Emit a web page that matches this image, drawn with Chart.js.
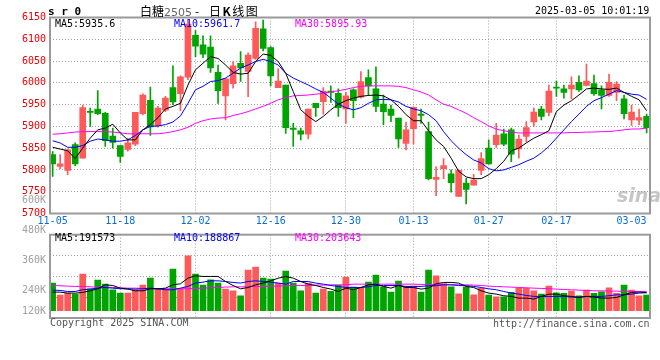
<!DOCTYPE html>
<html>
<head>
<meta charset="utf-8">
<script src="https://cdn.jsdelivr.net/npm/chart.js@4.4.1/dist/chart.umd.min.js"></script>
<style>
  body { margin: 0; background: #fff; }
  #wrap { position: relative; width: 660px; height: 360px; overflow: hidden; }
  canvas { position: absolute; left: 0; }
  .t { position: absolute; white-space: pre; font: 10px/12px "DejaVu Sans Mono", monospace; }
</style>
</head>
<body>
<div id="wrap">
  <canvas id="cPrice" width="660" height="232" style="top:0"></canvas>
  <canvas id="cVol" width="660" height="140" style="top:190px"></canvas>

  <div class="t" style="left:48px;top:5px;font:bold 11px/13px 'DejaVu Sans Mono'">s r 0</div>
  <div class="t" style="left:140px;top:3px;font:12px/16px 'Noto Sans CJK SC'">白糖<span style="color:#666;font:11px 'DejaVu Sans'">2505</span></div>
  <div class="t" style="left:195px;top:3px;font:12px/16px 'Noto Sans CJK SC'">-</div>
  <div class="t" style="left:209px;top:3px;font:12px/16px 'Noto Sans CJK SC';letter-spacing:1.5px">日<b>K</b>线图</div>
  <div class="t" style="left:535px;top:5px">2025-03-05 10:01:19</div>

  <div class="t" style="left:55px;top:18px;color:#000">MA5:5935.6</div>
  <div class="t" style="left:174px;top:18px;color:#0000ff">MA10:5961.7</div>
  <div class="t" style="left:295px;top:18px;color:#ff00ff">MA30:5895.93</div>

  <div class="t" style="left:55px;top:232px;color:#000">MA5:191573</div>
  <div class="t" style="left:174px;top:232px;color:#0000ff">MA10:188867</div>
  <div class="t" style="left:295px;top:232px;color:#ff00ff">MA30:203643</div>

  <div class="t" style="left:50px;top:317px;color:#555">Copyright 2025 SINA.COM</div>
  <div class="t" style="left:493px;top:318px;color:#555">http://finance.sina.com.cn</div>
  <div class="t" style="left:617px;top:184px;font:italic bold 19px/22px 'DejaVu Sans';color:rgba(160,160,160,.6)">sina</div>
</div>

<script>
// ═══════════════════════════════════════════════
//  DATOS — SR505, 80 sesiones (11-05 … 03-05)
// ═══════════════════════════════════════════════

const X_TICK_IDX    = [0, 9, 19, 29, 39, 48, 58, 67, 77];
const X_TICK_LABELS = ['11-05','11-18','12-02','12-16','12-30','01-13','01-27','02-17','03-03'];

const OPEN  = [5835,5808,5799,5858,5827,5934,5940,5930,5878,5856, 5847,5859,5929,5960,5901,5937,5989,5975,6013,6109,
               6087,6082,6024,5970,5998,6045,6026,6056,6124,6081, 5989,5995,5896,5890,5882,5953,5957,5981,5976,5940,
               5984,5967,6012,5986,5951,5940,5919,5861,5895,5928, 5888,5778,5803,5791,5739,5770,5765,5799,5850,5858,
               5883,5892,5848,5877,5910,5940,5932,5989,5986,5986, 6001,5994,5998,5984,5971,5978,5963,5915,5914,5923];
const HIGH  = [5842,5835,5848,5862,5949,5942,5982,5932,5896,5856, 5873,5932,5975,5990,5946,5969,6039,6016,6143,6120,
               6108,6108,6041,6009,6049,6072,6069,6140,6144,6083, 6033,5995,5907,5896,5940,5953,5989,5993,5986,5978,
               5986,6026,6030,6037,5972,5949,5919,5910,5945,5940, 5910,5808,5826,5800,5800,5781,5790,5840,5869,5907,
               5894,5896,5880,5911,5942,5946,5995,6004,5995,6014, 6016,6043,6018,5993,6020,6003,5972,5949,5940,5928];
const LOW   = [5785,5803,5789,5810,5827,5900,5927,5854,5850,5817, 5843,5856,5927,5879,5898,5934,5950,5936,6007,6060,
               6058,6024,5953,5915,5988,6003,5968,6054,6073,5993, 5989,5884,5854,5869,5871,5923,5928,5955,5923,5907,
               5920,5965,5971,5934,5904,5911,5852,5846,5859,5907, 5777,5741,5780,5749,5739,5722,5765,5789,5813,5852,
               5856,5819,5827,5864,5900,5915,5924,5969,5965,5963, 5980,5993,5971,5940,5969,5959,5917,5902,5904,5885];
const CLOSE = [5814,5814,5846,5814,5943,5932,5929,5867,5863,5831, 5862,5932,5972,5899,5942,5965,5956,6014,6135,6084,
               6066,6034,5982,6009,6039,6034,6064,6125,6079,6016, 6004,5897,5893,5882,5940,5943,5981,5978,5943,5970,
               5959,6003,5993,5946,5934,5925,5871,5892,5944,5925, 5780,5783,5810,5771,5799,5755,5777,5826,5814,5880,
               5859,5836,5871,5897,5933,5923,5981,5988,5978,5995, 5984,6004,5975,5971,6001,5997,5929,5933,5920,5897];

const MA5   = [5852,5848,5844,5826,5850,5873,5892,5896,5905,5885, 5869,5869,5892,5904,5920,5940,5946,5953,5995,6030,
               6045,6060,6056,6041,6024,6020,6022,6049,6066,6063, 6049,6022,5980,5938,5923,5911,5923,5938,5951,5959,
               5965,5969,5971,5972,5970,5961,5946,5927,5913,5913, 5890,5869,5854,5827,5797,5784,5780,5780,5789,5803,
               5820,5844,5850,5862,5873,5881,5890,5934,5949,5959, 5972,5986,5988,5986,5985,5988,5978,5969,5961,5936];
const MA10  = [5867,5862,5852,5852,5856,5866,5871,5869,5866,5866, 5869,5879,5892,5900,5901,5904,5910,5924,5953,5984,
               5992,6003,6005,6011,6022,6034,6041,6049,6054,6049, 6041,6022,6011,6003,5995,5986,5978,5965,5951,5943,
               5938,5943,5953,5961,5962,5961,5956,5946,5940,5936, 5927,5913,5888,5867,5850,5835,5823,5816,5803,5798,
               5800,5806,5812,5820,5827,5839,5854,5873,5892,5911, 5928,5946,5959,5966,5974,5982,5978,5974,5972,5962];
const MA30  = [5882,5883,5885,5887,5888,5888,5888,5888,5887,5885, 5883,5883,5883,5883,5883,5885,5888,5892,5898,5907,
               5913,5917,5919,5920,5925,5929,5934,5940,5946,5953, 5961,5966,5970,5971,5972,5974,5976,5979,5982,5985,
               5989,5992,5993,5993,5993,5993,5992,5989,5984,5979, 5972,5961,5951,5946,5938,5930,5920,5911,5901,5894,
               5890,5887,5885,5885,5885,5885,5885,5885,5885,5886, 5886,5887,5887,5888,5888,5890,5892,5894,5894,5896];

const VOL      = [291000,165000,186000,175000,385000,231000,322000,280000,221000,186000,
                  186000,221000,270000,343000,228000,228000,438000,231000,578000,385000,
                  270000,326000,291000,228000,210000,158000,427000,459000,343000,333000,
                  291000,417000,291000,210000,291000,186000,228000,204000,267000,354000,
                  249000,244000,301000,375000,252000,196000,312000,249000,259000,196000,
                  427000,368000,286000,252000,179000,249000,168000,235000,165000,147000,
                  147000,193000,235000,235000,210000,175000,259000,189000,183000,207000,
                  158000,217000,183000,200000,242000,183000,270000,217000,158000,165000];
const VOL_MA5  = [196000,196000,186000,186000,193000,210000,231000,273000,266000,238000,
                  228000,210000,210000,231000,231000,238000,273000,284000,343000,368000,
                  361000,361000,361000,308000,266000,231000,245000,273000,291000,315000,
                  343000,361000,343000,308000,280000,266000,245000,228000,203000,238000,
                  221000,245000,273000,280000,256000,238000,266000,245000,245000,228000,
                  238000,284000,298000,298000,291000,256000,245000,210000,186000,175000,
                  158000,151000,133000,133000,123000,151000,175000,175000,158000,151000,
                  140000,151000,144000,133000,133000,140000,168000,193000,196000,192000];
const VOL_MA10 = [217000,214000,203000,203000,221000,228000,238000,245000,238000,231000,
                  231000,228000,231000,238000,231000,221000,221000,238000,256000,291000,
                  301000,315000,315000,308000,298000,291000,308000,315000,308000,301000,
                  291000,280000,308000,308000,308000,291000,280000,266000,256000,245000,
                  245000,245000,252000,266000,266000,266000,266000,256000,256000,256000,
                  263000,263000,273000,273000,266000,263000,256000,245000,231000,221000,
                  203000,186000,175000,161000,151000,151000,151000,151000,151000,144000,
                  144000,151000,151000,151000,158000,168000,168000,175000,186000,189000];
const VOL_MA30 = [266000,263000,259000,256000,256000,252000,249000,249000,245000,242000,
                  238000,238000,235000,235000,231000,231000,231000,231000,231000,235000,
                  238000,242000,245000,249000,252000,252000,252000,256000,256000,259000,
                  259000,263000,266000,266000,266000,270000,270000,273000,273000,273000,
                  280000,280000,280000,280000,280000,280000,280000,280000,280000,277000,
                  277000,277000,277000,273000,273000,273000,270000,266000,259000,256000,
                  252000,249000,245000,242000,238000,235000,231000,228000,224000,221000,
                  217000,214000,210000,210000,207000,207000,203000,203000,203000,204000];

const VOL_TICKS       = [600000, 480000, 360000, 240000, 120000];
const VOL_TICK_LABELS = ['600K', '480K', '360K', '240K', '120K'];

// ═══════════════════════════════════════════════
//  ESTILO
// ═══════════════════════════════════════════════

const UP     = '#ff5a5a';
const DOWN   = '#00a400';
const GRID   = '#a0a0a0';
const FRAME  = '#9a9a9a';
const MONO   = { family: 'DejaVu Sans Mono', size: 10 };
const X_MIN  = -0.35;
const X_MAX  = 79.45;
const X_GRID_HIDE = [0, 77];

const colorOf = (i) => CLOSE[i] >= OPEN[i] ? UP : DOWN;
const colores = CLOSE.map((_, i) => colorOf(i));
const pts     = (arr) => arr.map((v, i) => ({ x: i, y: v }));

const framePlugin = {
  id: 'frame',
  afterDraw(chart) {
    const { ctx, chartArea: a } = chart;
    ctx.save();
    ctx.strokeStyle = FRAME;
    ctx.lineWidth = 2;
    ctx.strokeRect(a.left, a.top, a.right - a.left, a.bottom - a.top);
    ctx.restore();
  }
};

const xAxis = (showLabels) => ({
  type: 'linear',
  min: X_MIN,
  max: X_MAX,
  offset: false,
  afterBuildTicks: (s) => { s.ticks = X_TICK_IDX.map(v => ({ value: v })); },
  afterFit: (s) => { s.height = showLabels ? 18.5 : 12; },
  ticks: {
    display: showLabels,
    autoSkip: false,
    maxRotation: 0,
    padding: 2,
    color: '#0a6ed1',
    font: MONO,
    callback: (v) => X_TICK_LABELS[X_TICK_IDX.indexOf(v)]
  },
  grid: {
    offset: false,
    drawTicks: false,
    color: (c) => (c.tick && X_GRID_HIDE.includes(c.tick.value)) ? 'rgba(0,0,0,0)' : GRID
  },
  border: { display: false, dash: [1, 2] }
});

// ═══════════════════════════════════════════════
//  CHART: Velas + medias
// ═══════════════════════════════════════════════

const lineDs = (data, color) => ({
  type: 'line',
  data: pts(data),
  borderColor: color,
  borderWidth: 1,
  pointRadius: 0,
  tension: 0,
  order: 0
});

new Chart(document.getElementById('cPrice'), {
  type: 'bar',
  data: {
    datasets: [
      lineDs(MA5, '#000000'),
      lineDs(MA10, '#0000ff'),
      lineDs(MA30, '#ff00ff'),
      {
        data: OPEN.map((o, i) => ({ x: i, y: [o, CLOSE[i]] })),
        backgroundColor: colores,
        barThickness: 6,
        minBarLength: 1,
        grouped: false,
        order: 1
      },
      {
        data: LOW.map((l, i) => ({ x: i, y: [l, HIGH[i]] })),
        backgroundColor: colores,
        barThickness: 1,
        grouped: false,
        order: 2
      }
    ]
  },
  options: {
    responsive: false,
    animation: false,
    devicePixelRatio: 1,
    layout: { padding: { top: 17.5, right: 10, left: 0, bottom: 0 } },
    plugins: { legend: { display: false }, tooltip: { enabled: false } },
    scales: {
      x: xAxis(true),
      y: {
        min: 5700,
        max: 6150,
        afterFit: (s) => { s.width = 50; },
        ticks: { stepSize: 50, color: '#ee0000', font: MONO, padding: 4, callback: (v) => String(v) },
        grid: { drawTicks: false, color: GRID },
        border: { display: false, dash: [1, 2] }
      }
    }
  },
  plugins: [framePlugin]
});

// ═══════════════════════════════════════════════
//  CHART: Volumen
// ═══════════════════════════════════════════════

const volLabels = {
  id: 'volLabels',
  afterDraw(chart) {
    const s = chart.scales.yl, a = chart.chartArea, ctx = chart.ctx;
    ctx.save();
    ctx.font = '10px "DejaVu Sans Mono"';
    ctx.fillStyle = '#a0a0a0';
    ctx.textAlign = 'right';
    ctx.textBaseline = 'middle';
    VOL_TICKS.forEach((v, k) => {
      const y = Math.min(s.getPixelForValue(v), a.bottom - 7);
      ctx.fillText(VOL_TICK_LABELS[k], 46, y);
    });
    ctx.restore();
  }
};

new Chart(document.getElementById('cVol'), {
  type: 'bar',
  data: {
    datasets: [
      lineDs(VOL_MA5, '#000000'),
      lineDs(VOL_MA10, '#0000ff'),
      lineDs(VOL_MA30, '#ff00ff'),
      {
        data: pts(VOL),
        backgroundColor: colores,
        barThickness: 6,
        order: 1
      }
    ]
  },
  options: {
    responsive: false,
    animation: false,
    devicePixelRatio: 1,
    layout: { padding: { top: 44.7, right: 10, left: 0, bottom: 0 } },
    plugins: { legend: { display: false }, tooltip: { enabled: false } },
    scales: {
      x: xAxis(false),
      y: {
        min: -76000,
        max: 800000,
        afterFit: (s) => { s.width = 50; },
        ticks: { display: false },
        grid: { display: false },
        border: { display: false }
      },
      yl: { display: false, min: 128000, max: 461200 },
      yg: {
        position: 'right',
        min: 0,
        max: 4,
        afterFit: (s) => { s.width = 0; },
        ticks: { display: false, stepSize: 1 },
        grid: { drawTicks: false, color: GRID },
        border: { display: false, dash: [1, 2] }
      }
    }
  },
  plugins: [framePlugin, volLabels]
});
</script>
</body>
</html>
